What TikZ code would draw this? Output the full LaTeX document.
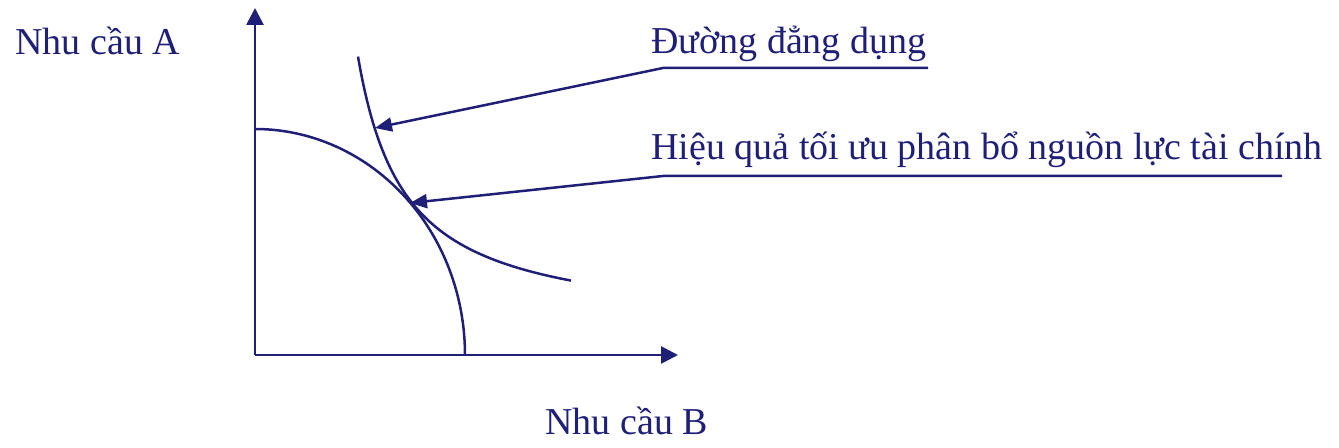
\documentclass[tikz,border=0pt]{standalone}
\usepackage{fontspec}
\setmainfont{Liberation Serif}
\usepackage{tikz}
\usetikzlibrary{arrows.meta, positioning, calc}
\definecolor{navyline}{RGB}{31,31,120}

\begin{document}
\begin{tikzpicture}[
    x=0.5pt, y=-0.5pt,
    font=\fontsize{19}{21}\selectfont,
    >={Triangle[length=8.5pt, width=8.5pt]},
    axis/.style={->, line width=1.35pt, draw=navyline},
    curve/.style={line width=1.25pt, draw=navyline},
    leader/.style={->, line width=1.25pt, draw=navyline, >={Triangle[length=8.5pt, width=7pt]}},
    lbl/.style={anchor=base west, inner sep=0pt, text=navyline}
]
    \useasboundingbox (0,0) rectangle (1339,448);

    % Axes
    \coordinate (O) at (255,355);
    \coordinate (ytip) at (255,8);
    \coordinate (xtip) at (678,355);
    \draw[axis] (O) -- (ytip);
    \draw[axis] (O) -- (xtip);
    \node[lbl] (demA) at (15,55) {Nhu cầu A};
    \node[lbl] (demB) at (545,435) {Nhu cầu B};

    % Frontier and indifference curve
    \draw[curve] plot[domain=0:90, samples=80, smooth] ({255+210*cos(\x)}, {355-226*sin(\x)});
    \draw[curve] plot[domain=358:571, samples=80, smooth] (\x, {330-12850/(\x-311)});

    % Labels with leaders
    \node[lbl] (indiff) at (651,54) {Đường đẳng dụng};
    \coordinate (knee1) at (663,68);
    \coordinate (end1) at (928,68);
    \coordinate (tip1) at (375,128);
    \draw[leader] (end1) -- (knee1) -- (tip1);

    \node[lbl] (optim) at (651,160) {Hiệu quả tối ưu phân bổ nguồn lực tài chính};
    \coordinate (knee2) at (663,176);
    \coordinate (end2) at (1282,176);
    \coordinate (tip2) at (410,203);
    \draw[leader] (end2) -- (knee2) -- (tip2);
\end{tikzpicture}
\end{document}
